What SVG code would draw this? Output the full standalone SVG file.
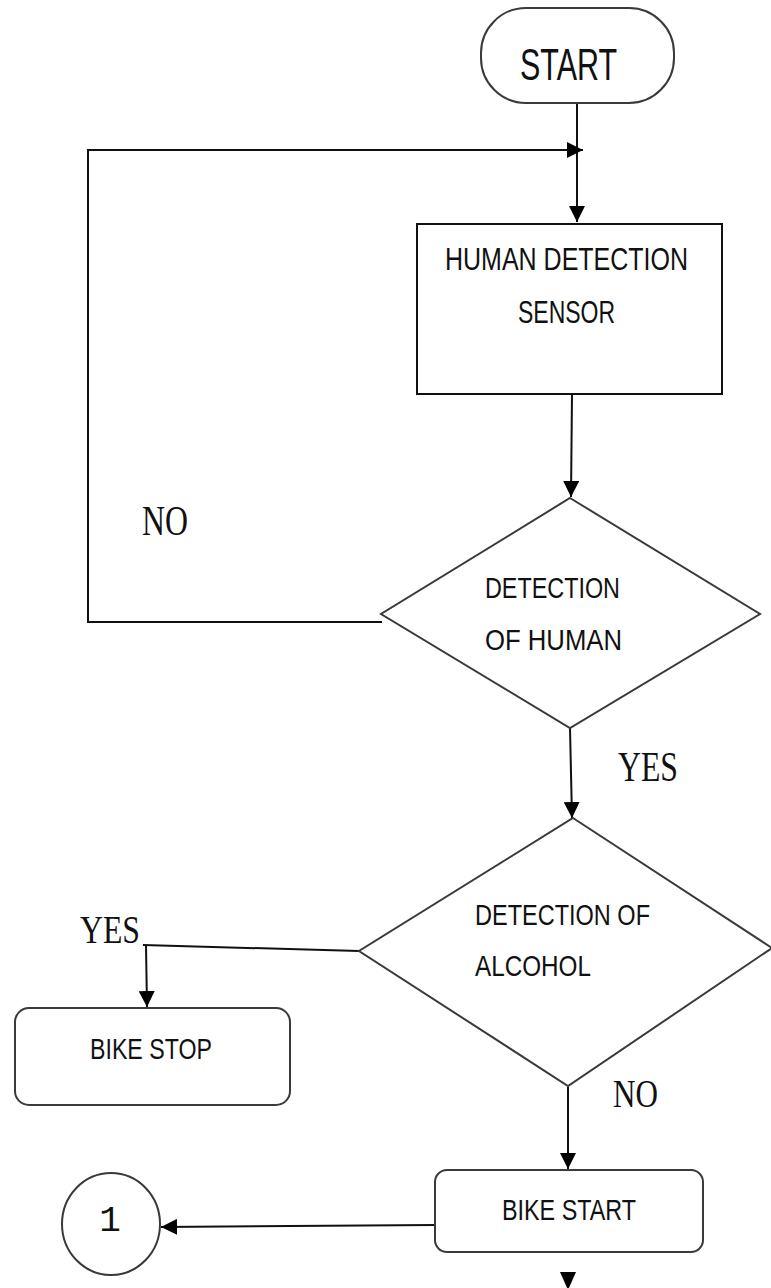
<svg xmlns="http://www.w3.org/2000/svg" width="771" height="1288" viewBox="0 0 771 1288">
<style>
.shape{fill:#fff;stroke:#3a3a3a;stroke-width:2}
.box{fill:#fff;stroke:#111;stroke-width:2}
.lbl{font-family:"Liberation Sans",Arial,sans-serif;fill:#111}
.ser{font-family:"Liberation Serif","Times New Roman",serif;fill:#111}
.con{fill:none;stroke:#111;stroke-width:2}
</style>
<defs>
<marker id="ah" markerUnits="userSpaceOnUse" markerWidth="16" markerHeight="16" refX="16" refY="8" orient="auto">
<path d="M0,0 L16,8 L0,16 z" fill="#000"/>
</marker>
</defs>
<rect width="771" height="1288" fill="#fff"/>
<g id="connectors">
<path class="con" d="M577,103 V222" marker-end="url(#ah)"/>
<path class="con" d="M382,622 H88 V150 H583" marker-end="url(#ah)"/>
<path class="con" d="M572,394 L571,497" marker-end="url(#ah)"/>
<path class="con" d="M570,728 L572,818" marker-end="url(#ah)"/>
<path class="con" d="M359,951 L143,945"/>
<path class="con" d="M146,946 L147,1007" marker-end="url(#ah)"/>
<path class="con" d="M568,1087 V1169" marker-end="url(#ah)"/>
<path class="con" d="M435,1225 L161,1227" marker-end="url(#ah)"/>
<polygon points="560,1272 576,1272 568,1290" fill="#000"/>
</g>
<g id="start">
<rect class="shape" x="481" y="8" width="193" height="95" rx="45" ry="45"/>
<text class="lbl" x="520" y="80" font-size="44" textLength="97" lengthAdjust="spacingAndGlyphs">START</text>
</g>
<g id="sensor">
<rect class="box" x="417" y="224" width="305" height="170"/>
<text class="lbl" x="445" y="270" font-size="31" textLength="243" lengthAdjust="spacingAndGlyphs">HUMAN DETECTION</text>
<text class="lbl" x="518" y="323" font-size="31" textLength="97" lengthAdjust="spacingAndGlyphs">SENSOR</text>
</g>
<g id="human">
<polygon class="shape" points="570,498 760,614 570,728 381,614"/>
<text class="lbl" x="485" y="598" font-size="29.5" textLength="135" lengthAdjust="spacingAndGlyphs">DETECTION</text>
<text class="lbl" x="485" y="650" font-size="29.5" textLength="137" lengthAdjust="spacingAndGlyphs">OF HUMAN</text>
</g>
<g id="alcohol">
<polygon class="shape" points="573,818 772,948 568,1086 359,951"/>
<text class="lbl" x="475" y="925" font-size="30" textLength="175" lengthAdjust="spacingAndGlyphs">DETECTION OF</text>
<text class="lbl" x="475" y="976" font-size="30" textLength="116" lengthAdjust="spacingAndGlyphs">ALCOHOL</text>
</g>
<g id="bikestop">
<rect class="shape" x="15" y="1008" width="275" height="97" rx="14" ry="14"/>
<text class="lbl" x="90" y="1059" font-size="30" textLength="122" lengthAdjust="spacingAndGlyphs">BIKE STOP</text>
</g>
<g id="bikestart">
<rect class="shape" x="435" y="1170" width="268" height="82" rx="12" ry="12"/>
<text class="lbl" x="502" y="1220" font-size="30" textLength="134" lengthAdjust="spacingAndGlyphs">BIKE START</text>
</g>
<g id="connector1">
<ellipse class="shape" cx="111" cy="1224" rx="49" ry="51"/>
<text x="110" y="1231" font-family="Liberation Mono,Courier New,monospace" font-size="36" text-anchor="middle" fill="#111">1</text>
</g>
<g id="labels">
<text class="ser" x="142" y="535" font-size="42" textLength="46" lengthAdjust="spacingAndGlyphs">NO</text>
<text class="ser" x="618" y="781" font-size="43" textLength="60" lengthAdjust="spacingAndGlyphs">YES</text>
<text class="ser" x="80" y="943" font-size="40" textLength="60" lengthAdjust="spacingAndGlyphs">YES</text>
<text class="ser" x="613" y="1107" font-size="41" textLength="45" lengthAdjust="spacingAndGlyphs">NO</text>
</g>
</svg>
